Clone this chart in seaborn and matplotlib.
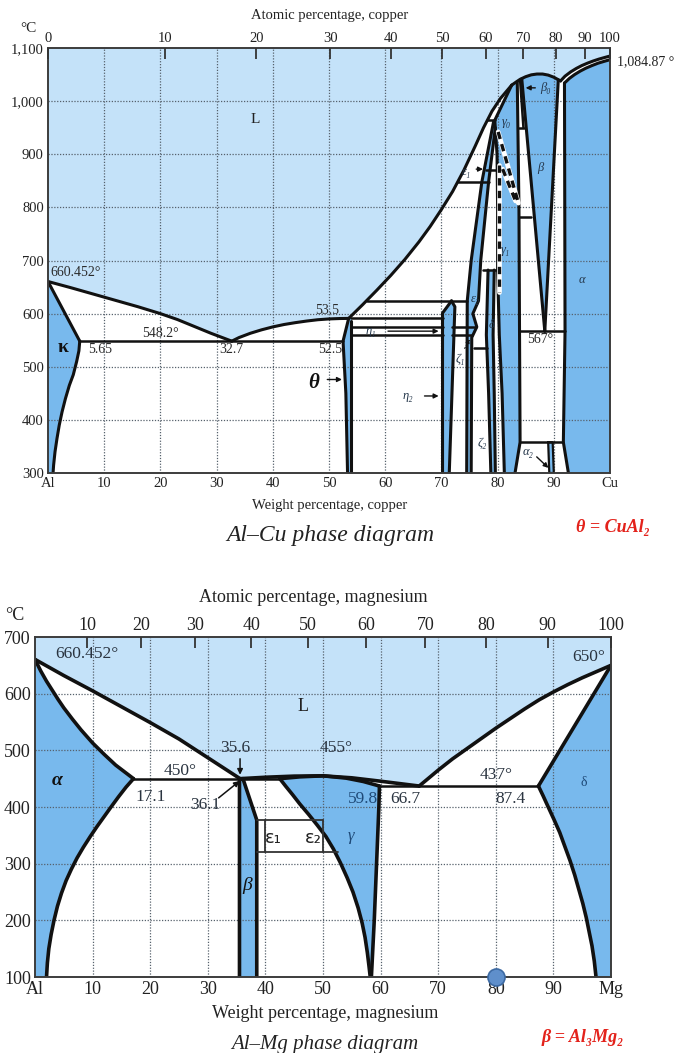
import matplotlib
matplotlib.use("Agg")
import matplotlib.pyplot as plt
import seaborn as sns

sns.set_theme(style="white")
plt.rcParams["font.family"] = ["Liberation Serif", "DejaVu Serif"]
plt.rcParams["mathtext.fontset"] = "stix"

LIQ = "#c4e2f9"
SOLID = "#78b9ed"
INK = "#111111"
GRID = "#56616c"
RED = "#e3221b"

# ---------------- Al-Cu boundaries (wt% Cu, deg C) ----------------
CU_LIQ_AL = [(0, 660.452), (4, 649), (8, 637), (12, 625), (16, 613), (20, 600), (23, 589), (26, 576),
             (29, 563), (32.7, 548.2)]
CU_LIQ_THETA = [(32.7, 548.2), (34, 555), (36, 563), (38, 569.5), (40, 575), (42, 579.5), (44, 583),
                (46, 586), (48, 588.5), (50, 590), (52, 590.8), (53.5, 591)]
CU_LIQ_MAIN = [(53.5, 591), (56, 617), (58.5, 644), (61, 672), (63.5, 702), (66, 735), (68, 764), (70, 796),
               (72, 830), (74, 870), (76, 915), (77.5, 950), (79, 981), (80.5, 1005), (82.5, 1030)]
CU_LIQ_TOP = [(82.5, 1030), (83.3, 1036), (84, 1041), (85, 1046), (86, 1049.5), (87, 1051), (88, 1051),
              (89, 1049), (90, 1045), (91.2, 1038)]
CU_LIQ_CU = [(91.2, 1038), (92, 1047), (93, 1055), (94, 1061.5), (95, 1067), (96, 1071.5), (97, 1075.5),
             (98, 1079), (99, 1082), (100, 1084.87)]
CU_SOL_CU = [(91.9, 1034), (92.8, 1043), (93.7, 1050), (94.7, 1056.5), (95.7, 1062), (96.8, 1067),
             (97.9, 1071.5), (99, 1075), (100, 1078)]

KAPPA_SOLIDUS = [(0, 660.452), (5.65, 548.2)]
KAPPA_SOLVUS = [(5.65, 548.2), (5.5, 530), (5.1, 510), (4.5, 485), (3.8, 465), (3.1, 440), (2.5, 415),
                (2.0, 390), (1.6, 365), (1.25, 340), (1.0, 315), (0.9, 300)]

THETA_LEFT = [(53.5, 591), (52.5, 548.2), (53.0, 450), (53.3, 300)]
THETA_RIGHT = [(54.0, 586), (54.0, 300)]

ETA_LEFT = [(70.2, 300), (70.2, 601), (71.8, 624)]
ETA_RIGHT = [(71.8, 624), (72.4, 613), (71.4, 300)]

EPS_LEFT = [(79.3, 962), (77.2, 848), (75.3, 700), (74.6, 624), (74.5, 300)]
EPS_RIGHT = [(79.6, 950), (78.4, 848), (77.0, 700), (76.6, 624), (75.6, 600), (76.3, 575), (75.4, 555),
             (75.3, 300)]

DELTA_LEFT = [(78.3, 682), (78.0, 560), (78.4, 450), (78.8, 300)]
DELTA_RIGHT = [(79.4, 682), (79.2, 560), (79.4, 450), (79.6, 300)]

GAMMA_LEFT = [(82.5, 1030), (79.5, 964), (79.9, 900), (80.0, 800), (80.0, 682), (80.3, 560), (80.8, 450),
              (81.2, 300)]
GAMMA_RIGHT = [(83.5, 1036), (83.8, 800), (83.9, 567), (84.0, 358), (83.1, 300)]

BETA_LEFT = [(84.3, 1042), (88.4, 567)]
BETA_RIGHT = [(90.8, 1040), (88.4, 567)]
ALPHA_LEFT = [(91.9, 1034), (92.0, 567), (91.7, 358), (92.6, 300)]
ALPHA2 = [(89.0, 358), (89.2, 300), (90.0, 300), (89.8, 358)]

CU_ISOTHERMS = [
    [(5.65, 548.2), (52.5, 548.2)],
    [(56.7, 624), (74.6, 624)],
    [(54.0, 591), (70.2, 591)],
    [(54.0, 575), (70.2, 575)], [(71.9, 575), (76.2, 575)],
    [(54.0, 560), (70.2, 560)], [(71.8, 560), (75.4, 560)],
    [(72.9, 848), (78.4, 848)],
    [(78.2, 964), (79.5, 964)],
    [(78.0, 870), (80.6, 870)],
    [(77.4, 682), (80.0, 682)],
    [(75.8, 535), (78.1, 535)],
    [(83.9, 567), (92.0, 567)],
    [(83.8, 782), (86.0, 782)],
    [(84.0, 358), (91.7, 358)],
    [(84.0, 1040), (84.6, 950)], [(83.8, 950), (84.7, 950)],
]
CU_DASHED = [[(80.1, 942), (83.7, 808)], [(80.2, 880), (80.2, 640)], [(80.9, 872), (83.2, 812)]]

CU_ATOMIC = [0, 10, 20, 30, 40, 50, 60, 70, 80, 90, 100]
CU_WT_LABELS = ["Al", "10", "20", "30", "40", "50", "60", "70", "80", "90", "Cu"]
CU_T_TICKS = [300, 400, 500, 600, 700, 800, 900, 1000, 1100]
CU_T_LABELS = ["300", "400", "500", "600", "700", "800", "900", "1,000", "1,100"]

# ---------------- Al-Mg boundaries (wt% Mg, deg C) ----------------
MG_LIQ_AL = [(0, 660.452), (5, 632), (10, 605), (15, 577), (20, 549), (25, 520), (30, 487), (35.6, 450)]
MG_LIQ_DOME = [(35.6, 450), (40, 452.5), (45, 454.5), (50, 455), (55, 451.5), (60, 445.5), (66.7, 437)]
MG_LIQ_MG = [(66.7, 437), (68, 448), (70, 465), (72.5, 485), (75, 503), (77.5, 521), (80, 539), (82.5, 556),
             (85, 573), (87.5, 589), (90, 603), (92.5, 616), (95, 628), (97.5, 639), (100, 650)]

ALPHA_SOLIDUS = [(0, 660.452), (1, 640), (2, 622), (3, 606), (4, 590), (5, 575), (6.5, 555), (8, 536),
                 (10, 513), (12, 493), (14, 474), (17.1, 450)]
ALPHA_SOLVUS = [(17.1, 450), (15.8, 435), (14.5, 418), (13.2, 400), (12, 383), (10.8, 366), (9.6, 348),
                (8.4, 329), (7.3, 310), (6.3, 290), (5.4, 270), (4.6, 248), (3.9, 225), (3.3, 200),
                (2.8, 175), (2.4, 150), (2.15, 125), (2.0, 100)]
MG_BETA = [(35.5, 100), (35.5, 448), (36.1, 450), (38.5, 377), (38.5, 100)]
GAMMA_TOP = [(42.5, 450), (46, 453.2), (50, 455), (54, 451), (57, 445), (59.8, 437)]
GAMMA_MG_RIGHT = [(59.8, 437), (59.7, 400), (59.5, 350), (59.3, 300), (59.1, 250), (58.9, 200),
                  (58.65, 150), (58.4, 100)]
GAMMA_MG_LEFT = [(42.5, 450), (43.5, 437), (44.7, 422), (46, 405), (47.5, 387), (49, 368), (50.5, 348),
                 (51.8, 326), (53, 302), (54.2, 275), (55.2, 250), (56.1, 222), (56.8, 195), (57.3, 170),
                 (57.7, 143), (58.0, 118), (58.2, 100)]
DELTA_SOLIDUS = [(100, 650), (87.4, 437)]
DELTA_SOLVUS = [(87.4, 437), (88.2, 420), (89.1, 400), (90.1, 378), (91.1, 355), (92.0, 330), (92.9, 305),
                (93.7, 280), (94.4, 255), (95.1, 230), (95.7, 205), (96.2, 180), (96.7, 155), (97.1, 128),
                (97.4, 100)]
MG_ISOTHERMS = [[(17.1, 450), (42.5, 450)], [(59.8, 437), (87.4, 437)]]
EPS_BOX = [[(38.5, 377), (50, 377)], [(38.5, 321), (52.6, 321)], [(40, 321), (40, 377)], [(50, 321), (50, 377)]]
MARKER = [(80, 100)]

MG_ATOMIC = [10, 20, 30, 40, 50, 60, 70, 80, 90, 100]
MG_WT_LABELS = ["Al", "10", "20", "30", "40", "50", "60", "70", "80", "90", "Mg"]
MG_T_TICKS = [100, 200, 300, 400, 500, 600, 700]

WT_TICKS = [0, 10, 20, 30, 40, 50, 60, 70, 80, 90, 100]
M_AL, M_CU, M_MG = 26.982, 63.546, 24.305


def at_to_wt(a, m):
    return 100.0 * a * m / (a * m + (100 - a) * M_AL)


def curve(ax, pts, lw=2.2, color=INK, z=5):
    xs = [p[0] for p in pts]
    ys = [p[1] for p in pts]
    sns.lineplot(x=xs, y=ys, sort=False, estimator=None, ax=ax, color=color, linewidth=lw, zorder=z)


def dashed(ax, pts):
    xs = [p[0] for p in pts]
    ys = [p[1] for p in pts]
    ax.plot(xs, ys, color="white", lw=3.4, zorder=5)
    ax.plot(xs, ys, color=INK, lw=2.4, ls=(0, (2.2, 1.6)), zorder=6)


def patch(ax, pts, color=SOLID, z=1):
    ax.fill([p[0] for p in pts], [p[1] for p in pts], color=color, lw=0, zorder=z)


def frame(ax, ymin, ymax, yticks, ylabels, wt_labels, atomic, mass, fs):
    ax.set_xlim(0, 100)
    ax.set_ylim(ymin, ymax)
    ax.set_facecolor(LIQ)
    for v in range(10, 100, 10):
        ax.axvline(v, color=GRID, lw=0.9, ls=(0, (1, 1.3)), zorder=3)
    for t in yticks[1:-1]:
        ax.axhline(t, color=GRID, lw=0.9, ls=(0, (1, 1.3)), zorder=3)
    ax.set_xticks(WT_TICKS)
    ax.set_xticklabels(wt_labels, fontsize=fs, color="#222")
    ax.set_yticks(yticks)
    ax.set_yticklabels(ylabels, fontsize=fs, color="#222")
    ax.tick_params(axis="both", length=0, pad=3)
    ax.set_xlabel("")
    ax.set_ylabel("")
    for s in ax.spines.values():
        s.set_color("#3c3c3c")
        s.set_linewidth(1.4)
        s.set_zorder(8)
    top = ax.twiny()
    top.set_xlim(0, 100)
    top.set_xticks([at_to_wt(a, mass) for a in atomic])
    top.set_xticklabels([str(a) for a in atomic], fontsize=fs, color="#222")
    top.tick_params(axis="x", direction="in", length=8, width=1.3, color="#333", pad=2)
    for s in top.spines.values():
        s.set_visible(False)
    top.grid(False)
    return top


W, H = 676, 1053
fig = plt.figure(figsize=(W / 100, H / 100), dpi=100)
fig.patch.set_facecolor("white")


def fx(px):
    return px / W


def fy(py):
    return 1 - py / H


# ======================= Al-Cu =======================
ax1 = fig.add_axes([fx(48), fy(473), fx(610) - fx(48), fy(48) - fy(473)])
frame(ax1, 300, 1100, CU_T_TICKS, CU_T_LABELS, CU_WT_LABELS, CU_ATOMIC, M_CU, 10.5)

below_liq = CU_LIQ_AL + CU_LIQ_THETA[1:] + CU_LIQ_MAIN[1:] + CU_LIQ_TOP[1:] + CU_LIQ_CU[1:] + [(100, 300), (0, 300)]
patch(ax1, below_liq, color="white", z=1)
patch(ax1, KAPPA_SOLIDUS + KAPPA_SOLVUS[1:] + [(0, 300)])
patch(ax1, THETA_LEFT + THETA_RIGHT[::-1] + [(54.0, 591)])
patch(ax1, ETA_LEFT + ETA_RIGHT[1:])
patch(ax1, EPS_LEFT + EPS_RIGHT[::-1])
patch(ax1, DELTA_LEFT + DELTA_RIGHT[::-1])
patch(ax1, GAMMA_LEFT + GAMMA_RIGHT[::-1] + [(82.5, 1030)])
patch(ax1, [(84.3, 1042)] + CU_LIQ_TOP[4:-1] + [(90.8, 1040), (88.4, 567)])
patch(ax1, CU_SOL_CU[::-1] + ALPHA_LEFT + [(100, 300)])
patch(ax1, ALPHA2)

for c in (CU_LIQ_AL, CU_LIQ_THETA, CU_LIQ_MAIN, CU_LIQ_TOP, CU_LIQ_CU, CU_SOL_CU, KAPPA_SOLIDUS,
          KAPPA_SOLVUS, THETA_LEFT, THETA_RIGHT, ETA_LEFT, ETA_RIGHT, EPS_LEFT, EPS_RIGHT, DELTA_LEFT,
          DELTA_RIGHT, GAMMA_LEFT, GAMMA_RIGHT, BETA_LEFT, BETA_RIGHT, ALPHA_LEFT):
    curve(ax1, c)
curve(ax1, ALPHA2 + ALPHA2[:1], lw=1.6)
for c in CU_ISOTHERMS:
    curve(ax1, c, lw=1.8)
for c in CU_DASHED:
    dashed(ax1, c)

tk = dict(color="#2b2b2b", fontsize=10)
ax1.text(0.5, 677, "660.452°", ha="left", va="center", **tk)
ax1.text(20, 551, "548.2°", ha="center", va="bottom", **tk)
ax1.text(9.2, 544, "5.65", ha="center", va="top", **tk)
ax1.text(32.7, 544, "32.7", ha="center", va="top", **tk)
ax1.text(49.6, 594, "53.5", ha="center", va="bottom", **tk)
ax1.text(50.2, 544, "52.5", ha="center", va="top", **tk)
ax1.text(87.5, 563, "567°", ha="center", va="top", **tk)
ax1.text(36.8, 965, "L", ha="center", va="center", fontsize=11, color="#222")
ax1.text(2.6, 537, "κ", ha="center", va="center", fontsize=14, fontweight="bold", color="#111")
ax1.text(47.3, 470, "θ", ha="center", va="center", fontsize=15, fontweight="bold", style="italic", color="#111")
arrow = dict(arrowstyle="-|>", color="#111", lw=1.0, mutation_scale=7)
ax1.annotate("", xy=(52.8, 476), xytext=(49.2, 476), arrowprops=arrow, zorder=7)
gk = dict(fontsize=9, style="italic", color="#24364a", ha="center", va="center", zorder=7)
ax1.text(57.5, 567, "η₁", **gk)
ax1.annotate("", xy=(70, 567), xytext=(60, 567), arrowprops=arrow, zorder=7)
ax1.text(64, 445, "η₂", **gk)
ax1.annotate("", xy=(70, 445), xytext=(66.5, 445), arrowprops=arrow, zorder=7)
ax1.text(73.3, 515, "ζ₁", **gk)
ax1.annotate("", xy=(75.3, 556), xytext=(73.9, 530),
             arrowprops=dict(arrowstyle="-|>", color="#111", lw=0.8, mutation_scale=6, ls=":"), zorder=7)
ax1.text(77.2, 357, "ζ₂", **gk)
ax1.text(76.0, 628, "ε₂", **gk)
ax1.text(79.0, 578, "δ", **gk)
ax1.text(81.4, 720, "γ₁", **gk)
ax1.text(81.6, 960, "γ₀", **gk)
ax1.text(74.5, 866, "ε₁", **gk)
ax1.annotate("", xy=(77.9, 872), xytext=(75.7, 872), arrowprops=arrow, zorder=7)
ax1.text(88.6, 1025, "β₀", **gk)
ax1.annotate("", xy=(84.5, 1025), xytext=(87.2, 1025), arrowprops=arrow, zorder=7)
ax1.text(87.6, 874, "β", **gk)
ax1.text(95.0, 664, "α", **gk)
ax1.text(85.4, 340, "α₂", **gk)
ax1.annotate("", xy=(89.4, 306), xytext=(86.6, 334), arrowprops=arrow, zorder=7)

fig.text(fx(28), fy(28), "°C", ha="center", va="center", fontsize=11, color="#222")
fig.text(fx(330), fy(16), "Atomic percentage, copper", ha="center", va="center", fontsize=10.5, color="#222")
fig.text(fx(330), fy(505), "Weight percentage, copper", ha="center", va="center", fontsize=10.5, color="#222")
fig.text(fx(330), fy(536), "Al–Cu phase diagram", ha="center", va="center", fontsize=17, style="italic", color="#222")
fig.text(fx(613), fy(528), "θ = CuAl₂", ha="center", va="center", fontsize=13, style="italic",
         fontweight="bold", color=RED)
fig.text(fx(617), fy(62), "1,084.87 °", ha="left", va="center", fontsize=10, color="#222")

# ======================= Al-Mg =======================
ax2 = fig.add_axes([fx(35), fy(977), fx(611) - fx(35), fy(637) - fy(977)])
frame(ax2, 100, 700, MG_T_TICKS, [str(t) for t in MG_T_TICKS], MG_WT_LABELS, MG_ATOMIC, M_MG, 13)

below_mg = MG_LIQ_AL + MG_LIQ_DOME[1:] + MG_LIQ_MG[1:] + [(100, 100), (0, 100)]
patch(ax2, below_mg, color="white", z=1)
patch(ax2, ALPHA_SOLIDUS + ALPHA_SOLVUS[1:] + [(0, 100)])
patch(ax2, MG_BETA)
patch(ax2, GAMMA_TOP + GAMMA_MG_RIGHT[1:] + GAMMA_MG_LEFT[::-1])
patch(ax2, DELTA_SOLIDUS + DELTA_SOLVUS[1:] + [(100, 100)])

for c in (MG_LIQ_AL, MG_LIQ_DOME, MG_LIQ_MG, ALPHA_SOLIDUS, ALPHA_SOLVUS, MG_BETA, GAMMA_TOP,
          GAMMA_MG_RIGHT, GAMMA_MG_LEFT, DELTA_SOLIDUS, DELTA_SOLVUS):
    curve(ax2, c, lw=2.6)
for c in MG_ISOTHERMS:
    curve(ax2, c, lw=1.8)
for c in EPS_BOX:
    curve(ax2, c, lw=1.3, color="#333")

sns.scatterplot(x=[m[0] for m in MARKER], y=[m[1] for m in MARKER], ax=ax2, s=150, color="#5f8fcb",
                edgecolor="#3d6aa3", linewidth=1.2, zorder=9, clip_on=False)

mk = dict(color="#2a3440", fontsize=12.5)
ax2.text(3.5, 670, "660.452°", ha="left", va="center", **mk)
ax2.text(99, 665, "650°", ha="right", va="center", **mk)
ax2.text(46.6, 578, "L", ha="center", va="center", fontsize=13, color="#222")
ax2.text(34.8, 505, "35.6", ha="center", va="center", **mk)
ax2.annotate("", xy=(35.6, 452), xytext=(35.6, 490),
             arrowprops=dict(arrowstyle="-|>", color="#111", lw=1.1, mutation_scale=8), zorder=7)
ax2.text(52.2, 505, "455°", ha="center", va="center", **mk)
ax2.text(25.2, 463, "450°", ha="center", va="center", **mk)
ax2.text(20.0, 418, "17.1", ha="center", va="center", **mk)
ax2.text(29.6, 403, "36.1", ha="center", va="center", **mk)
ax2.annotate("", xy=(35.9, 449), xytext=(31.5, 413),
             arrowprops=dict(arrowstyle="-|>", color="#111", lw=1.1, mutation_scale=8), zorder=7)
ax2.text(57.0, 414, "59.8", ha="center", va="center", color="#1f4a78", fontsize=12.5)
ax2.text(64.3, 414, "66.7", ha="center", va="center", **mk)
ax2.text(80.0, 456, "437°", ha="center", va="center", **mk)
ax2.text(82.6, 414, "87.4", ha="center", va="center", **mk)
ax2.text(3.8, 446, "α", ha="center", va="center", fontsize=14, fontweight="bold", style="italic", color="#111")
ax2.text(95.3, 444, "δ", ha="center", va="center", fontsize=10, color="#1f4a78")
ax2.text(36.9, 262, "β", ha="center", va="center", fontsize=14, style="italic", color="#111")
ax2.text(54.8, 349, "γ", ha="center", va="center", fontsize=12, style="italic", color="#1f4a78")
ax2.text(41.3, 345, "ε₁", ha="center", va="center", fontsize=13, color="#222", family=["DejaVu Sans"])
ax2.text(48.3, 345, "ε₂", ha="center", va="center", fontsize=13, color="#222", family=["DejaVu Sans"])

fig.text(fx(15), fy(615), "°C", ha="center", va="center", fontsize=13, color="#222")
fig.text(fx(313), fy(598), "Atomic percentage, magnesium", ha="center", va="center", fontsize=13, color="#222")
fig.text(fx(325), fy(1013), "Weight percentage, magnesium", ha="center", va="center", fontsize=13, color="#222")
fig.text(fx(325), fy(1045), "Al–Mg phase diagram", ha="center", va="center", fontsize=15, style="italic", color="#222")
fig.text(fx(583), fy(1038), "β = Al₃Mg₂", ha="center", va="center", fontsize=13, style="italic",
         fontweight="bold", color=RED)

fig.savefig("out.png", dpi=100)
